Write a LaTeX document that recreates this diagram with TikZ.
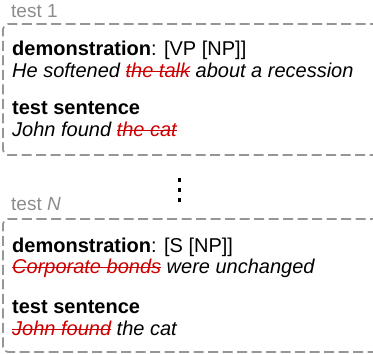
\documentclass[tikz,border=0pt]{standalone}
\usepackage{fontspec}
\setmainfont{Liberation Sans}
\definecolor{boxgray}{RGB}{150,150,150}
\definecolor{labelgray}{RGB}{140,140,140}
\definecolor{strikered}{RGB}{204,0,0}
\newcommand{\strk}[1]{{\color{strikered}\setbox0\hbox{#1}\rlap{\rule[0.27em]{\wd0}{1pt}}\box0}}
\tikzset{
    testbox/.style={draw=boxgray,line width=1.8pt,dash pattern=on 10pt off 4.5pt,rounded corners=5pt},
    testlabel/.style={anchor=base west,inner sep=0pt,text=labelgray,font=\fontsize{19}{22}\selectfont},
    line/.style={anchor=base west,inner sep=0pt,font=\fontsize{20}{22}\selectfont}
}
\begin{document}
\begin{tikzpicture}[x=1pt,y=-1pt]
        \useasboundingbox (0,0) rectangle (373,354);
        %% test 1
        \node[testlabel] (label1) at (11,17) {test 1};
        \draw[testbox] (380,24) -- (3,24) -- (3,155) -- (380,155);
        \node[line] (demo1) at (12,55) {\textbf{demonstration}: [VP [NP]]};
        \node[line] (sent1) at (12,77) {\textit{He softened \strk{the talk} about a recession}};
        \node[line] (head1) at (12,114) {\textbf{test sentence}};
        \node[line] (test1) at (12,136) {\textit{John found \strk{the cat}}};
        %% dots
        \foreach \y in {180,190,200}
            \fill (177.5,\y-1.7) rectangle ++(3.4,3.4);
        %% test N
        \node[testlabel] (labelN) at (11,210) {test \textit{N}};
        \draw[testbox] (380,219) -- (3,219) -- (3,352) -- (380,352);
        \node[line] (demoN) at (12,252) {\textbf{demonstration}: [S [NP]]};
        \node[line] (sentN) at (12,273) {\textit{\strk{Corporate bonds} were unchanged}};
        \node[line] (headN) at (12,313) {\textbf{test sentence}};
        \node[line] (testN) at (12,335) {\textit{\strk{John found} the cat}};
    \end{tikzpicture}
\end{document}
